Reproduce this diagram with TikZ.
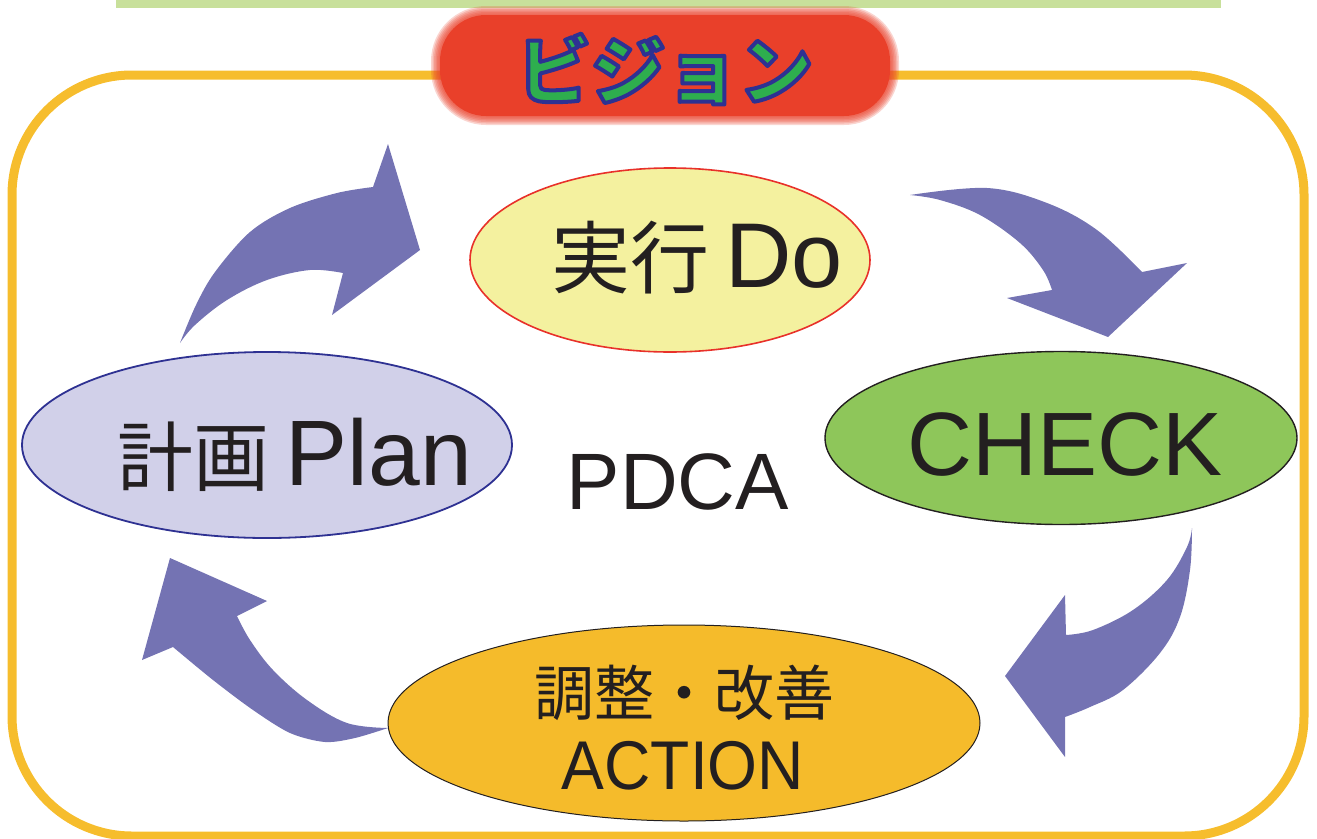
\documentclass[tikz,border=0pt]{standalone}
\usepackage{fontspec}
\usetikzlibrary{shapes.geometric}
\newfontfamily\jp{Noto Sans CJK JP}
\newfontfamily\lat{Liberation Sans}
\definecolor{borderyellow}{HTML}{F6BD2D}
\definecolor{visionred}{HTML}{E9402A}
\definecolor{visiongreen}{HTML}{2EAE4E}
\definecolor{visionblue}{HTML}{2E3192}
\definecolor{dofill}{HTML}{F4F19F}
\definecolor{doline}{HTML}{E8312A}
\definecolor{planfill}{HTML}{D1D0E9}
\definecolor{planline}{HTML}{2E3192}
\definecolor{checkfill}{HTML}{8EC65A}
\definecolor{actfill}{HTML}{F5BB2B}
\definecolor{inkdark}{HTML}{231F20}
\definecolor{arrowblue}{HTML}{7473B3}
\definecolor{barGreen}{HTML}{C8E09B}
\newcommand{\outlinedtext}[1]{\textcolor{visiongreen}{\special{pdf:literal direct 2 Tr 4 w 1 J 1 j 0.18 0.192 0.573 RG}#1\special{pdf:literal direct 0 Tr}}}
\tikzset{
  blockarrow/.style={fill=arrowblue},
  phase/.style={ellipse, inner sep=0pt},
  lbl/.style={inner sep=0pt, text=inkdark},
}
\begin{document}
\begin{tikzpicture}[x=1pt,y=-1pt]
\useasboundingbox (0,0) rectangle (1317,838);
% top green bar
\fill[barGreen] (116,0) rectangle (1221,8);
% yellow frame
\draw[borderyellow, line width=9pt, rounded corners=120pt] (12,75) rectangle (1304,836);
% vision label (soft edged)
\foreach \d in {9,7.5,6,4.5,3,1.5}
  \fill[visionred, opacity=0.22, rounded corners={46pt+\d pt}] ({440-\d},{15-\d}) rectangle ({890+\d},{116+\d});
\fill[visionred, rounded corners=46pt] (440,15) rectangle (890,116);
\node[inner sep=0pt] (visiontxt) at (665,69)
  {\jp\bfseries\fontsize{74}{74}\selectfont\outlinedtext{ビジョン}};
% block arrows
\fill[blockarrow] plot[smooth,tension=0.55] coordinates {(180,343) (196,305) (215,272) (250,232) (290,208) (337,193) (373,187)}
  -- (388,144) -- (420,250) -- (332,315) -- (343,273)
  -- plot[smooth,tension=0.6] coordinates {(343,273) (310,270) (267,280) (227,300) (195,325) (180,343)} -- cycle;
\fill[blockarrow] plot[smooth,tension=0.6] coordinates {(910,195) (987,188) (1047,203) (1097,230) (1142,272)}
  -- (1187,263) -- (1108,337) -- (1007,298) -- (1052,290)
  -- plot[smooth,tension=0.6] coordinates {(1052,290) (1043,270) (1020,243) (980,215) (940,200) (910,195)} -- cycle;
\fill[blockarrow] plot[smooth,tension=0.6] coordinates {(1192,528) (1190,570) (1180,617) (1160,653) (1123,690) (1090,707) (1065,717)}
  -- (1065,757) -- (1005,676) -- (1065,595) -- (1066,635)
  -- plot[smooth,tension=0.6] coordinates {(1066,635) (1093,630) (1133,610) (1167,580) (1187,547) (1192,528)} -- cycle;
\fill[blockarrow] plot[smooth,tension=0.5] coordinates {(388,728) (355,738) (325,742) (290,733) (253,710) (213,680) (173,647)}
  -- (142,660) -- (170,558) -- (267,601) -- (237,616)
  -- plot[smooth,tension=0.6] coordinates {(237,616) (250,640) (273,670) (307,700) (347,723) (388,728)} -- cycle;
% phase ellipses
\node[phase, draw=doline, line width=1.6pt, fill=dofill, minimum width=400pt, minimum height=184pt] (do) at (670,260) {};
\node[phase, draw=planline, line width=1.8pt, fill=planfill, minimum width=490pt, minimum height=186pt] (plan) at (267,445) {};
\node[phase, draw=inkdark, line width=1.4pt, fill=checkfill, minimum width=472pt, minimum height=173pt] (check) at (1061,438) {};
\node[phase, draw=inkdark, line width=1pt, fill=actfill, minimum width=592pt, minimum height=196pt] (action) at (684,723) {};
% labels
\node[lbl, anchor=base] (dotxt) at (697,287)
  {{\jp\fontsize{79}{79}\selectfont 実行}\hspace{16pt}{\lat\fontsize{92}{92}\selectfont Do}};
\node[lbl, anchor=base] (plantxt) at (295,485)
  {{\jp\fontsize{76}{76}\selectfont 計画}\hspace{16pt}{\lat\fontsize{93}{93}\selectfont Plan}};
\node[lbl, anchor=base] (checktxt) at (1065,475)
  {\lat\fontsize{90}{90}\selectfont CHECK};
\node[lbl, anchor=base] (pdca) at (678,509)
  {\lat\fontsize{80}{80}\selectfont PDCA};
\node[lbl] (acttxt1) at (684,693)
  {\jp\fontsize{60}{60}\selectfont 調整・改善};
\node[lbl, anchor=base] (acttxt2) at (683,789)
  {\scalebox{0.93}[1]{\lat\fontsize{69}{69}\selectfont ACTION}};
\end{tikzpicture}
\end{document}
